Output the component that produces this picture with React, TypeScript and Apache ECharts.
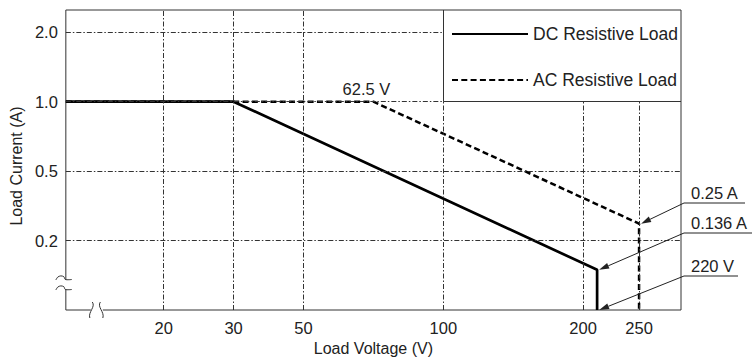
import React, { useEffect, useRef } from "react";
import * as echarts from "echarts";

// ---- Axis definition (schematic, not-to-scale figure) ----
// Tick labels of the voltage axis and the voltages they stand for
const xTickLabels = ["20", "30", "50", "100", "200", "250"];
const xTickVolts = [20, 30, 50, 100, 200, 250];
// Stations of the drawn (distorted) voltage scale: volts -> axis units
const xStationVolts = [20, 30, 50, 62.5, 100, 200, 220, 250];
const xStationUnits = [1, 2, 3, 4, 5, 7, 7.2, 7.8];
const X_MIN = -0.4;
const X_MAX = 8.4;

// Current axis: tick labels, amps, and axis units
const yTickLabels = ["0.2", "0.5", "1.0", "2.0"];
const yTickAmps = [0.2, 0.5, 1.0, 2.0];
const yTickUnits = [1, 2, 3, 4];
const Y_MIN = 0;
const Y_MAX = 4.32;

// ---- Data (0 = broken-axis origin) ----
const dcVolts = [0, 30, 220, 220];
const dcAmps = [1.0, 1.0, 0.136, 0];
const acVolts = [0, 62.5, 250, 250];
const acAmps = [1.0, 1.0, 0.25, 0];

// Annotations
const kneeLabel = "62.5 V";
const kneeVolts = 62.5;
const kneeAmps = 1.0;
const noteLabels = ["0.25 A", "0.136 A", "220 V"];
const noteVolts = [250, 220, 220];
const noteAmps = [0.25, 0.136, 0];

const FONT = "'Liberation Sans', Arial, Helvetica, sans-serif";
const INK = "#222";
const FRAME = "#333";
const FS = 16.5;

function interpLog(v: number, xs: number[], us: number[]): number {
  let i = 0;
  if (v <= xs[0]) i = 0;
  else if (v >= xs[xs.length - 1]) i = xs.length - 2;
  else {
    while (i < xs.length - 2 && v > xs[i + 1]) i++;
  }
  const t = Math.log(v / xs[i]) / Math.log(xs[i + 1] / xs[i]);
  return us[i] + t * (us[i + 1] - us[i]);
}
const xU = (v: number) => (v <= 0 ? X_MIN : interpLog(v, xStationVolts, xStationUnits));
const yU = (a: number) => (a <= 0 ? Y_MIN : interpLog(a, yTickAmps, yTickUnits));

const xTickUnits = xTickVolts.map(xU);

export default function App() {
  const ref = useRef<HTMLDivElement>(null);
  useEffect(() => {
    if (!ref.current) return;
    const chart = echarts.init(ref.current, null, { renderer: "svg" });

    const dashDot = { color: FRAME, width: 1, type: [5, 2, 1.5, 2] as any };
    const solid = { color: FRAME, width: 1, type: "solid" as any };
    const seg = (x1: number, y1: number, x2: number, y2: number, style: any) => [
      { coord: [x1, y1], lineStyle: style },
      { coord: [x2, y2] },
    ];
    const boxLeft = xU(100);
    const boxBottom = yU(1.0);
    const gridSegs: any[] = [];
    xTickUnits.forEach((u) => {
      if (u < boxLeft - 1e-6) gridSegs.push(seg(u, Y_MIN, u, Y_MAX, dashDot));
      else gridSegs.push(seg(u, Y_MIN, u, boxBottom, dashDot));
    });
    yTickUnits.forEach((u) => {
      if (u < boxBottom - 1e-6) gridSegs.push(seg(X_MIN, u, X_MAX, u, dashDot));
      else gridSegs.push(seg(X_MIN, u, boxLeft, u, dashDot));
    });
    // legend box edges
    gridSegs.push(seg(boxLeft, boxBottom, boxLeft, Y_MAX, solid));
    gridSegs.push(seg(boxLeft, boxBottom, X_MAX, boxBottom, solid));

    const option: any = {
      animation: false,
      backgroundColor: "#fff",
      textStyle: { fontFamily: FONT },
      grid: {
        left: 57,
        right: 73,
        top: 10,
        bottom: 52,
        show: true,
        borderColor: FRAME,
        borderWidth: 1,
        backgroundColor: "transparent",
      },
      legend: {
        orient: "vertical",
        left: 446,
        top: 20,
        itemWidth: 76,
        itemHeight: 14,
        itemGap: 28,
        selectedMode: false,
        textStyle: { fontSize: 17.5, color: INK, fontFamily: FONT },
        data: [
          { name: "DC Resistive Load", itemStyle: { opacity: 0 } },
          { name: "AC Resistive Load", itemStyle: { opacity: 0 } },
        ],
      },
      xAxis: {
        type: "value",
        min: X_MIN,
        max: X_MAX,
        axisLine: { show: false },
        axisTick: { show: false },
        splitLine: { show: false },
        axisLabel: {
          customValues: xTickUnits,
          margin: 9,
          fontSize: FS,
          color: INK,
          fontFamily: FONT,
          formatter: (v: number) => {
            const i = xTickUnits.findIndex((u) => Math.abs(u - v) < 1e-6);
            return i >= 0 ? xTickLabels[i] : "";
          },
        },
        name: "Load Voltage (V)",
        nameLocation: "middle",
        nameGap: 30,
        nameTextStyle: { fontSize: 16, color: INK, fontFamily: FONT },
      },
      yAxis: {
        type: "value",
        min: Y_MIN,
        max: Y_MAX,
        axisLine: { show: false },
        axisTick: { show: false },
        splitLine: { show: false },
        axisLabel: {
          customValues: yTickUnits,
          margin: 8,
          fontSize: FS,
          color: INK,
          fontFamily: FONT,
          formatter: (v: number) => {
            const i = yTickUnits.findIndex((u) => Math.abs(u - v) < 1e-6);
            return i >= 0 ? yTickLabels[i] : "";
          },
        },
        name: "Load Current (A)",
        nameLocation: "middle",
        nameGap: 39,
        nameTextStyle: { fontSize: 16, color: INK, fontFamily: FONT, padding: [0, 12, 0, 0] },
      },
      series: [
        {
          name: "grid",
          type: "line",
          data: [],
          silent: true,
          markLine: {
            silent: true,
            symbol: "none",
            label: { show: false },
            data: gridSegs,
          },
        },
        {
          name: "AC Resistive Load",
          type: "line",
          symbol: "none",
          silent: true,
          color: "#000",
          lineStyle: { color: "#000", width: 2.5, type: [6, 3.3] },
          data: acVolts.map((v, i) => [xU(v), yU(acAmps[i])]),
        },
        {
          name: "DC Resistive Load",
          type: "line",
          symbol: "none",
          silent: true,
          color: "#000",
          lineStyle: { color: "#000", width: 2.7, type: "solid" },
          data: dcVolts.map((v, i) => [xU(v), yU(dcAmps[i])]),
        },
      ],
    };
    chart.setOption(option);

    const px = (x: number, y: number) =>
      chart.convertToPixel({ gridIndex: 0 }, [x, y]) as number[];
    const [gl, gb] = px(X_MIN, Y_MIN);
    const [gr] = px(X_MAX, Y_MAX);

    const g: any[] = [];
    // y-axis break
    g.push({ type: "rect", z: 50, shape: { x: gl - 3, y: gb - 30, width: 6, height: 9 }, style: { fill: "#fff" } });
    const yBreak = (y0: number) => ({
      type: "polyline",
      z: 51,
      shape: {
        points: [
          [gl - 10, y0 + 0.5],
          [gl - 8, y0 - 2.5],
          [gl - 5, y0 - 3.6],
          [gl - 2, y0 - 2.8],
          [gl - 0.5, y0],
          [gl + 6, y0],
        ],
        smooth: 0.3,
      },
      style: { stroke: FRAME, lineWidth: 1, fill: null },
    });
    g.push(yBreak(gb - 30.5));
    g.push(yBreak(gb - 20.5));
    // x-axis break
    g.push({ type: "rect", z: 50, shape: { x: gl + 25, y: gb - 3, width: 12, height: 6 }, style: { fill: "#fff" } });
    const xBreak = (x0: number, dir: number) => ({
      type: "bezierCurve",
      z: 51,
      shape: {
        x1: x0 + 1.5 * dir,
        y1: gb - 8,
        cpx1: x0 + 5 * dir,
        cpy1: gb - 3,
        cpx2: x0 - 3 * dir,
        cpy2: gb + 2,
        x2: x0 - 1 * dir,
        y2: gb + 8,
      },
      style: { stroke: FRAME, lineWidth: 1, fill: null },
    });
    g.push(xBreak(gl + 25, 1));
    g.push(xBreak(gl + 36, -1));

    // knee label
    const [kx, ky] = px(xU(kneeVolts), yU(kneeAmps));
    g.push({
      type: "text",
      z: 60,
      x: kx - 7,
      y: ky - 4,
      style: { text: kneeLabel, fontSize: FS, fontFamily: FONT, fill: INK, align: "center", verticalAlign: "bottom" },
    });

    // callouts
    const lineYs = [203, 233, 276];
    const lineEnds = [745, 752, 738];
    noteLabels.forEach((lab, i) => {
      const sx = gr + 3;
      const sy = lineYs[i];
      const [tx0, ty0] = px(xU(noteVolts[i]), yU(noteAmps[i]));
      const tx = tx0 + 2;
      const ty = ty0;
      const dx = tx - sx;
      const dy = ty - sy;
      const len = Math.hypot(dx, dy);
      const ux = dx / len;
      const uy = dy / len;
      const L = 10;
      const W = 3;
      const bx = tx - ux * L;
      const by = ty - uy * L;
      g.push({
        type: "line",
        z: 60,
        shape: { x1: sx, y1: sy, x2: lineEnds[i], y2: sy },
        style: { stroke: INK, lineWidth: 1 },
      });
      g.push({
        type: "line",
        z: 60,
        shape: { x1: sx, y1: sy, x2: bx, y2: by },
        style: { stroke: INK, lineWidth: 1 },
      });
      g.push({
        type: "polygon",
        z: 61,
        shape: {
          points: [
            [tx, ty],
            [bx - uy * W, by + ux * W],
            [bx + uy * W, by - ux * W],
          ],
        },
        style: { fill: INK },
      });
      g.push({
        type: "text",
        z: 60,
        x: sx + 7,
        y: sy - 2,
        style: { text: lab, fontSize: FS, fontFamily: FONT, fill: INK, align: "left", verticalAlign: "bottom" },
      });
    });

    chart.setOption({ graphic: g });
    return () => chart.dispose();
  }, []);

  return (
    <div
      ref={ref}
      style={{ position: "fixed", left: 0, top: 0, width: 754, height: 362, background: "#fff" }}
    />
  );
}
